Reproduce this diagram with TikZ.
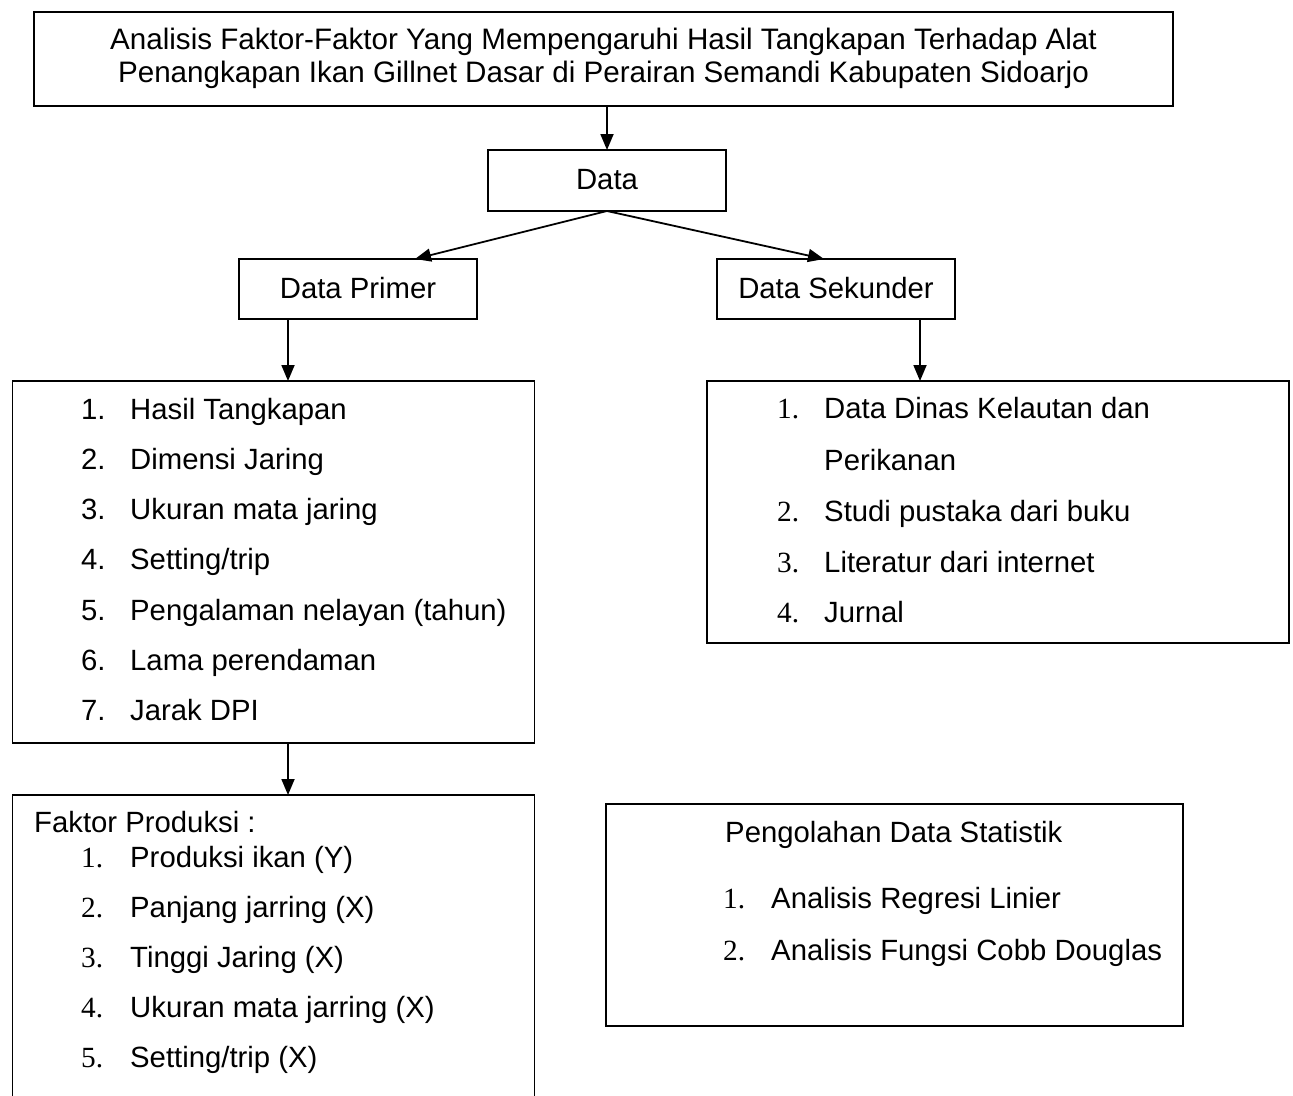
\documentclass[tikz,border=0pt]{standalone}
\usepackage{fontspec}
\setmainfont{Liberation Sans}
\newfontfamily\numfont{Liberation Serif}
\usetikzlibrary{arrows.meta,calc}
\begin{document}
\begin{tikzpicture}[x=1pt,y=-1pt,
  box/.style={draw, line width=1.8pt, inner sep=0pt, outer sep=0pt, rectangle},
  txt/.style={anchor=base west, inner sep=0pt, font=\fontsize{29.3}{33}\selectfont},
  ctxt/.style={anchor=base, inner sep=0pt, font=\fontsize{29.3}{33}\selectfont},
  ttl/.style={anchor=base, inner sep=0pt, font=\fontsize{29.6}{33}\selectfont},
  arr/.style={line width=1.8pt, -{Triangle[length=16pt,width=13pt]}}]
\useasboundingbox (0,0) rectangle (1293,1095);
\clip (0,0) rectangle (1293,1095);
\fill[white] (0,0) rectangle (1293,1095);
% boxes
\node[box, minimum width=1139pt, minimum height=94pt] (top) at (603.5,59) {};
\node[box, minimum width=238pt, minimum height=61pt] (data) at (607,180.5) {};
\node[box, minimum width=238pt, minimum height=60pt] (dp) at (358,289) {};
\node[box, minimum width=238pt, minimum height=60pt] (ds) at (836,289) {};
\node[box, minimum width=522pt, minimum height=362pt] (la) at (273.5,562) {};
\node[box, minimum width=582pt, minimum height=262pt] (lb) at (998,512) {};
\node[box, minimum width=522pt, minimum height=320pt] (fk) at (273.5,955) {};
\node[box, minimum width=577pt, minimum height=222pt] (po) at (894.5,915) {};
% texts
\node[ttl] (t1) at (603.5,49) {Analisis Faktor-Faktor Yang Mempengaruhi Hasil Tangkapan Terhadap Alat};
\node[ttl] (t2) at (603.5,82) {Penangkapan Ikan Gillnet Dasar di Perairan Semandi Kabupaten Sidoarjo};
\node[ctxt] (tdata) at (607,189) {Data};
\node[ctxt] (tdp) at (358,298) {Data Primer};
\node[ctxt] (tds) at (836,298) {Data Sekunder};
% list A
\foreach \t [count=\k] in {{Hasil Tangkapan},{Dimensi Jaring},{Ukuran mata jaring},{Setting/trip},{Pengalaman nelayan (tahun)},{Lama perendaman},{Jarak DPI}}{
  \node[txt] (an\k) at (81,{419+50.3*(\k-1)}) {\k.};
  \node[txt] (at\k) at (130,{419+50.3*(\k-1)}) {\t};
}
% list B
\node[txt] (bn1) at (777,418) {\numfont 1.};
\node[txt] (bt1) at (824,418) {Data Dinas Kelautan dan};
\node[txt] (bt1b) at (824,470) {Perikanan};
\node[txt] (bn2) at (777,521) {\numfont 2.};
\node[txt] (bt2) at (824,521) {Studi pustaka dari buku};
\node[txt] (bn3) at (777,572) {\numfont 3.};
\node[txt] (bt3) at (824,572) {Literatur dari internet};
\node[txt] (bn4) at (777,622) {\numfont 4.};
\node[txt] (bt4) at (824,622) {Jurnal};
% faktor
\node[txt] (fh) at (34,832) {Faktor Produksi :};
\foreach \t [count=\k] in {{Produksi ikan (Y)},{Panjang jarring (X)},{Tinggi Jaring (X)},{Ukuran mata jarring (X)},{Setting/trip (X)}}{
  \node[txt] (fn\k) at (81,{867+50.2*(\k-1)}) {\numfont\k.};
  \node[txt] (ft\k) at (130,{867+50.2*(\k-1)}) {\t};
}
% pengolahan
\node[txt] (ph) at (725,842) {Pengolahan Data Statistik};
\node[txt] (pn1) at (723,908) {\numfont 1.};
\node[txt] (pt1) at (771,908) {Analisis Regresi Linier};
\node[txt] (pn2) at (723,960) {\numfont 2.};
\node[txt] (pt2) at (771,960) {Analisis Fungsi Cobb Douglas};
% connectors
\draw[arr] (data.north |- top.south) -- (data.north);
\draw[arr] (data.south) -- ([xshift=57pt]dp.north);
\draw[arr] (data.south) -- ([xshift=-12pt]ds.north);
\draw[arr] ([xshift=-70pt]dp.south) -- ([xshift=-70pt]dp.south |- la.north);
\draw[arr] ([xshift=84pt]ds.south) -- ([xshift=84pt]ds.south |- lb.north);
\draw[arr] ([xshift=14.5pt]la.south) -- ([xshift=14.5pt]la.south |- fk.north);
\end{tikzpicture}
\end{document}
